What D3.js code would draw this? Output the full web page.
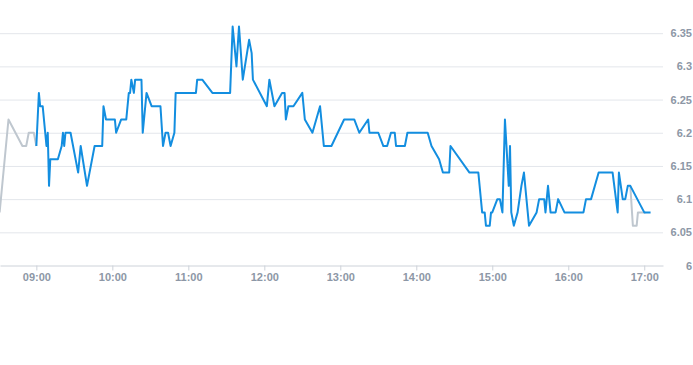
<!DOCTYPE html>
<meta charset="utf-8">
<style>

body {
  margin: 0;
  background: #fff;
}

.axis text {
  font: bold 11px "Liberation Sans", Arial, sans-serif;
  fill: #8d97a6;
}

</style>
<script src="https://d3js.org/d3.v7.min.js"></script>
<body></body>
<script>

// pre-market (grey)
var preTimes = ["08:31", "08:38", "08:49", "08:52", "08:54", "08:58", "09:00"];
var prePrices = [6.08, 6.22, 6.18, 6.18, 6.2, 6.2, 6.18];

// regular session (blue)
var regTimes = [
  "09:00", "09:02", "09:03", "09:05", "09:08", "09:09", "09:10", "09:11", "09:17", "09:20",
  "09:21", "09:22", "09:23", "09:27", "09:33", "09:35", "09:40", "09:46", "09:52", "09:53",
  "09:55", "10:02", "10:03", "10:07", "10:11", "10:13", "10:14", "10:15", "10:17", "10:18",
  "10:23", "10:24", "10:27", "10:31", "10:38", "10:40", "10:42", "10:44", "10:46", "10:49",
  "10:50", "11:06", "11:07", "11:11", "11:19", "11:33", "11:35", "11:38", "11:40", "11:43",
  "11:48", "11:50", "11:51", "12:02", "12:04", "12:08", "12:14", "12:16", "12:17", "12:19",
  "12:23", "12:30", "12:32", "12:38", "12:44", "12:47", "12:53", "13:03", "13:11", "13:15",
  "13:22", "13:23", "13:30", "13:34", "13:37", "13:40", "13:43", "13:44", "13:51", "13:53",
  "14:09", "14:12", "14:18", "14:21", "14:26", "14:27", "14:42", "14:49", "14:52", "14:54",
  "14:55", "14:58", "14:59", "15:00", "15:04", "15:06", "15:08", "15:10", "15:13", "15:14",
  "15:15", "15:17", "15:20", "15:23", "15:25", "15:28", "15:29", "15:35", "15:37", "15:41",
  "15:42", "15:44", "15:46", "15:50", "15:52", "15:57", "16:12", "16:14", "16:18", "16:24",
  "16:35", "16:39", "16:40", "16:43", "16:45", "16:47", "16:49", "17:00", "17:05"
];
var regPrices = [
  6.18, 6.26, 6.24, 6.24, 6.18, 6.2, 6.12, 6.16, 6.16, 6.18,
  6.2, 6.18, 6.2, 6.2, 6.14, 6.18, 6.12, 6.18, 6.18, 6.24,
  6.22, 6.22, 6.2, 6.22, 6.22, 6.26, 6.26, 6.28, 6.26, 6.28,
  6.28, 6.2, 6.26, 6.24, 6.24, 6.18, 6.2, 6.2, 6.18, 6.2,
  6.26, 6.26, 6.28, 6.28, 6.26, 6.26, 6.36, 6.3, 6.36, 6.28,
  6.34, 6.32, 6.28, 6.24, 6.28, 6.24, 6.26, 6.26, 6.22, 6.24,
  6.24, 6.26, 6.22, 6.2, 6.24, 6.18, 6.18, 6.22, 6.22, 6.2,
  6.22, 6.2, 6.2, 6.18, 6.18, 6.2, 6.2, 6.18, 6.18, 6.2,
  6.2, 6.18, 6.16, 6.14, 6.14, 6.18, 6.14, 6.14, 6.08, 6.08,
  6.06, 6.06, 6.08, 6.08, 6.1, 6.1, 6.08, 6.22, 6.12, 6.18,
  6.08, 6.06, 6.08, 6.12, 6.14, 6.08, 6.06, 6.08, 6.1, 6.1,
  6.08, 6.12, 6.08, 6.08, 6.1, 6.08, 6.08, 6.1, 6.1, 6.14,
  6.14, 6.08, 6.14, 6.1, 6.1, 6.12, 6.12, 6.08, 6.08
];

// after-hours (grey)
var postTimes = ["16:49", "16:51", "16:54", "16:55", "17:01"];
var postPrices = [6.12, 6.06, 6.06, 6.08, 6.08];

var xTicks = ["09:00", "10:00", "11:00", "12:00", "13:00", "14:00", "15:00", "16:00", "17:00"];
var yTicks = [6, 6.05, 6.1, 6.15, 6.2, 6.25, 6.3, 6.35];

var width = 693;
var height = 365;
var plotRight = 663;
var plotBottom = 265.5;

var parseTime = d3.timeParse('%H:%M');
var parseFull = d3.timeParse('%H:%M:%S');

var x = d3.scaleTime()
	.domain([parseFull('08:31:18'), parseFull('17:14:48')])
	.range([0, plotRight]);

var y = d3.scaleLinear()
	.domain([6, 6.4])
	.range([plotBottom, 0]);

function toPoints(times, prices) {
	return times.map(function(t, i) {
		return { t: parseTime(t), v: prices[i] };
	});
}

var svg = d3.select('body').append('svg')
	.attr('width', width)
	.attr('height', height);

//grid lines
var grid = svg.append('g')
	.call(d3.axisRight(y)
		.tickValues(yTicks.slice(1))
		.tickSize(plotRight)
		.tickFormat(''));
grid.select('.domain').remove();
grid.selectAll('line')
	.attr('stroke', '#e3e6eb');

//right labels
var yAxis = svg.append('g')
	.attr('class', 'axis')
	.attr('transform', 'translate(692,0)')
	.call(d3.axisLeft(y)
		.tickValues(yTicks)
		.tickSize(0)
		.tickPadding(0)
		.tickFormat(d3.format('')));
yAxis.select('.domain').remove();

//bottom axis
var xAxis = svg.append('g')
	.attr('class', 'axis')
	.attr('transform', 'translate(0,' + plotBottom + ')')
	.call(d3.axisBottom(x)
		.tickValues(xTicks.map(parseTime))
		.tickFormat(d3.timeFormat('%H:%M'))
		.tickSize(5)
		.tickSizeOuter(0)
		.tickPadding(3));
xAxis.select('.domain').attr('stroke', '#cdd2d9');
xAxis.selectAll('line').attr('stroke', '#cdd2d9');

var line = d3.line()
	.x(function(d) { return x(d.t); })
	.y(function(d) { return y(d.v); });

svg.append('path')
	.datum(toPoints(preTimes, prePrices))
	.attr('fill', 'none')
	.attr('stroke', '#bfc7cf')
	.attr('stroke-width', 2)
	.attr('stroke-linejoin', 'round')
	.attr('d', line);

svg.append('path')
	.datum(toPoints(postTimes, postPrices))
	.attr('fill', 'none')
	.attr('stroke', '#bfc7cf')
	.attr('stroke-width', 2)
	.attr('stroke-linejoin', 'round')
	.attr('d', line);

svg.append('path')
	.datum(toPoints(regTimes, regPrices))
	.attr('fill', 'none')
	.attr('stroke', '#138ee0')
	.attr('stroke-width', 2)
	.attr('stroke-linejoin', 'round')
	.attr('d', line);

</script>
